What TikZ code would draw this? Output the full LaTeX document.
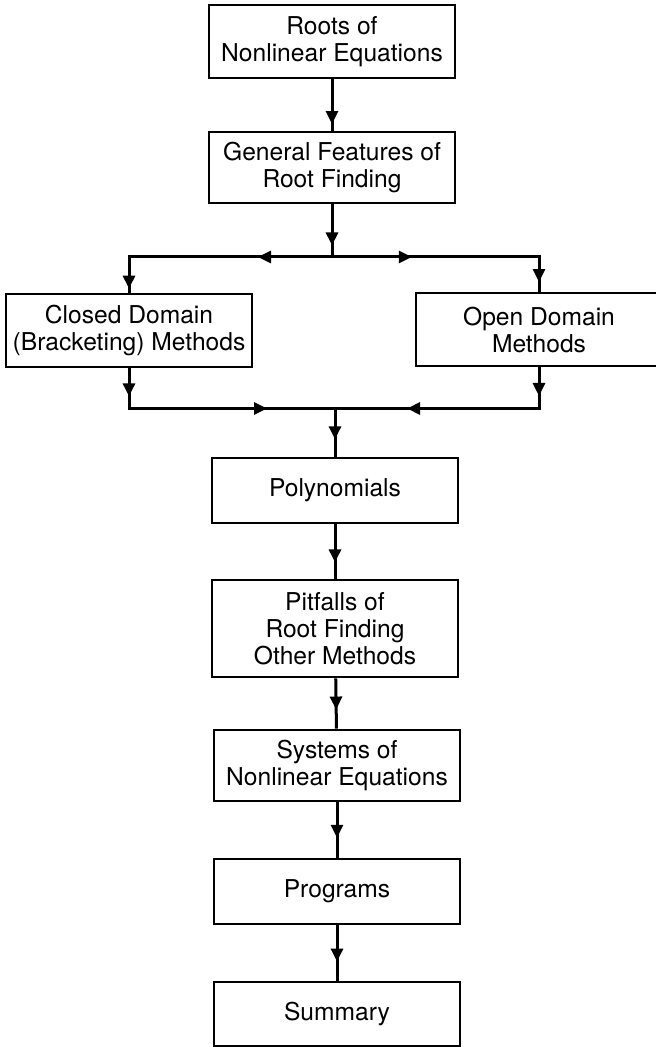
\documentclass[tikz,border=0pt]{standalone}
\usepackage{fontspec}
\setmainfont{TeX Gyre Heros}
\usetikzlibrary{arrows.meta,decorations.markings}

\tikzset{
  box/.style={draw, line width=1.3pt, minimum width=123pt, inner xsep=1pt,
    align=center, font=\fontsize{12.3}{13.5}\selectfont},
  link/.style={line width=1.5pt},
  tipat/.style={postaction={decorate, decoration={markings,
    mark=at position #1 with {\arrow{Triangle[length=6.5pt,width=6pt]}}}}}
}

\begin{document}
\begin{tikzpicture}[x=0.5pt, y=-0.5pt]

  % Fix the size of the picture
  \useasboundingbox (0,0) rectangle (656,1047);

  % Top of the chart
  \node[box, minimum height=36.5pt] (roots) at (332,41.5) {Roots of\\Nonlinear Equations};
  \node[box, minimum height=35.5pt] (features) at (332,167.5) {General Features of\\Root Finding};

  % The two families of methods
  \node[box, minimum height=36.5pt] (closed) at (129,330.5) {Closed Domain\\(Bracketing) Methods};
  \node[box, minimum height=36.5pt] (open) at (539,329.5) {Open Domain\\Methods};

  % Where the lines split and join again
  \coordinate (split) at (332,257);
  \coordinate (join) at (335,408.5);

  % Rest of the chart
  \node[box, minimum height=32.5pt] (poly) at (335,490.5) {Polynomials};
  \node[box, minimum height=48.5pt] (pitfalls) at (335,628.5) {Pitfalls of\\Root Finding\\Other Methods};
  \node[box, minimum height=35.5pt] (systems) at (337,765.5) {Systems of\\Nonlinear Equations};
  \node[box, minimum height=32.5pt] (programs) at (337,891.5) {Programs};
  \node[box, minimum height=32pt] (summary) at (337,1014) {Summary};

  % Connectors with the arrow heads on them
  \draw[link, tipat=0.87] (roots) -- (features);
  \draw[link, tipat=0.78] (features) -- (split);
  \draw[link, tipat=0.31, tipat=0.983] (split) -| (closed);
  \draw[link, tipat=0.33, tipat=0.96] (split) -| (open);
  \draw[link, tipat=0.114, tipat=0.724] (closed) |- (join);
  \draw[link, tipat=0.117, tipat=0.706] (open) |- (join);
  \draw[link, tipat=0.64] (join) -- (poly);
  \draw[link, tipat=0.70] (poly) -- (pitfalls);
  \draw[link, tipat=0.62] (pitfalls) -- (systems);
  \draw[link, tipat=0.64] (systems) -- (programs);
  \draw[link, tipat=0.655] (programs) -- (summary);

\end{tikzpicture}
\end{document}
